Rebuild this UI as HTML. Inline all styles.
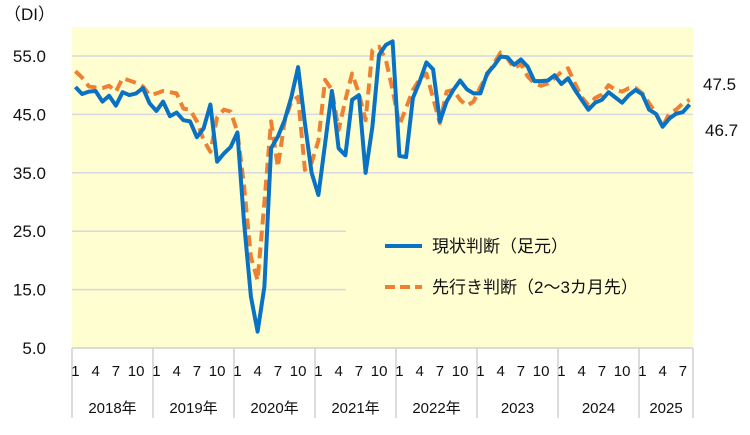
<!DOCTYPE html>
<html><head><meta charset="utf-8"><style>
body{margin:0;background:#fff;}
svg text{font-family:"Liberation Sans","Noto Sans CJK JP",sans-serif;fill:#111;}
</style></head><body>
<svg id="chart" width="750" height="430" xmlns="http://www.w3.org/2000/svg">
<g id="g"></g>
</svg>
<script>
const yearLabels=["2018年","2019年","2020年","2021年","2022年","2023","2024","2025"];
const monthTicks=["1","4","7","10"];
const yTicks=[55,45,35,25,15,5];
const currentDI=[49.7,48.5,48.9,49.0,47.2,48.2,46.5,48.8,48.3,48.6,49.5,46.9,
45.6,47.2,44.7,45.3,44.0,43.8,41.1,42.6,46.7,36.9,38.3,39.4,
41.9,26.4,13.8,7.8,15.5,39.2,41.2,44.0,48.0,53.1,43.5,35.0,
31.2,40.0,49.0,39.2,38.0,47.5,48.3,35.0,42.9,55.2,56.9,57.5,
37.9,37.7,47.8,50.6,53.9,52.7,43.8,47.2,49.2,50.8,49.3,48.6,
48.6,52.0,53.3,54.9,54.8,53.5,54.4,53.2,50.7,50.7,50.8,51.7,
50.2,51.2,49.2,47.5,45.8,47.0,47.5,48.8,47.9,47.0,48.3,49.2,
48.4,45.8,45.1,42.9,44.3,45.1,45.4,46.7];
const outlookDI=[52.4,51.3,49.8,49.6,49.5,49.9,48.9,51.2,50.8,50.4,49.8,48.3,
48.6,49.0,48.8,48.6,46.0,45.8,43.8,40.6,38.6,44.5,45.8,45.5,
42.0,32.6,20.6,16.6,30.0,43.8,36.0,43.8,47.2,48.0,35.5,36.7,
40.5,50.9,49.2,42.3,47.5,52.0,48.6,44.0,56.0,56.6,54.3,49.2,
43.2,46.1,49.2,51.0,52.0,47.8,43.5,48.9,49.2,47.5,46.5,47.2,
49.7,51.7,53.7,55.6,54.6,52.9,53.7,51.5,50.3,49.9,50.3,51.2,
52.3,52.9,50.3,48.0,46.6,47.8,48.4,50.0,49.2,48.9,49.5,49.5,
48.6,46.9,45.2,42.9,45.2,45.8,46.9,47.5];
const seriesNames=["現状判断（足元）","先行き判断（2～3カ月先）"];

const X0=72,X1=693,Y5=348,Y55=56,N=92;
const step=(X1-X0)/N;
const xs=i=>X0+(i+0.5)*step;
const ys=v=>Y5-(v-5)*(Y5-Y55)/50;
const NS="http://www.w3.org/2000/svg";
const g=document.getElementById('g');
function mk(t,a,txt){const e=document.createElementNS(NS,t);for(const k in a)e.setAttribute(k,a[k]);if(txt!==undefined)e.textContent=txt;g.appendChild(e);return e;}

let e=mk('rect',{x:X0,y:27,width:X1-X0,height:Y5-27,fill:'#fefed0'});


yTicks.forEach(v=>{
  if(v>5){
    const xe=(v>=35)?X1:346;
    const l=mk('line',{x1:X0,x2:xe,y1:ys(v),y2:ys(v),stroke:'#d8d8e0','stroke-width':1.5});
    
    
  }
  const t=mk('text',{x:46,y:ys(v)+6,'text-anchor':'end','font-size':17},v.toFixed(1));
  
  
});
e=mk('text',{x:4,y:20,'font-size':17},'（DI）');



// x axis
const ax=mk('line',{x1:X0,x2:X1,y1:Y5,y2:Y5,stroke:'#d0d0d0','stroke-width':1.5});


yearLabels.forEach((yl,k)=>{
  const xa=X0+k*12*step;
  const months=Math.min(12,N-k*12);
  const sep=mk('line',{x1:xa,x2:xa,y1:Y5,y2:418,stroke:'#d0d0d0','stroke-width':1.5});
  
  
  monthTicks.forEach(m=>{
    const mi=parseInt(m)-1;
    if(mi<months){
      const t=mk('text',{x:xs(k*12+mi),y:376,'text-anchor':'middle','font-size':15},m);
      
      
    }
  });
  const t=mk('text',{x:xa+months*step/2,y:413,'text-anchor':'middle','font-size':15},yl);
  
  
});
const sepEnd=mk('line',{x1:X1,x2:X1,y1:Y5,y2:418,stroke:'#d0d0d0','stroke-width':1.5});



function pts(arr){return arr.map((v,i)=>xs(i).toFixed(1)+','+ys(v).toFixed(1)).join(' ');}
e=mk('polyline',{points:pts(outlookDI),fill:'none',stroke:'#ee8033','stroke-width':4,'stroke-dasharray':'11,6','stroke-linejoin':'round'});


e=mk('polyline',{points:pts(currentDI),fill:'none',stroke:'#0a72c2','stroke-width':4,'stroke-linejoin':'round'});



// end labels
e=mk('text',{x:703,y:90,'font-size':17},outlookDI[N-1].toFixed(1));


e=mk('text',{x:705,y:136,'font-size':17},currentDI[N-1].toFixed(1));



// legend
e=mk('line',{x1:385,x2:422,y1:246,y2:246,stroke:'#0a72c2','stroke-width':4});


e=mk('text',{x:432,y:252,'font-size':17},seriesNames[0]);


e=mk('line',{x1:385,x2:422,y1:287,y2:287,stroke:'#ee8033','stroke-width':4,'stroke-dasharray':'10,5'});


e=mk('text',{x:432,y:293,'font-size':17},seriesNames[1]);


</script>
</body></html>
